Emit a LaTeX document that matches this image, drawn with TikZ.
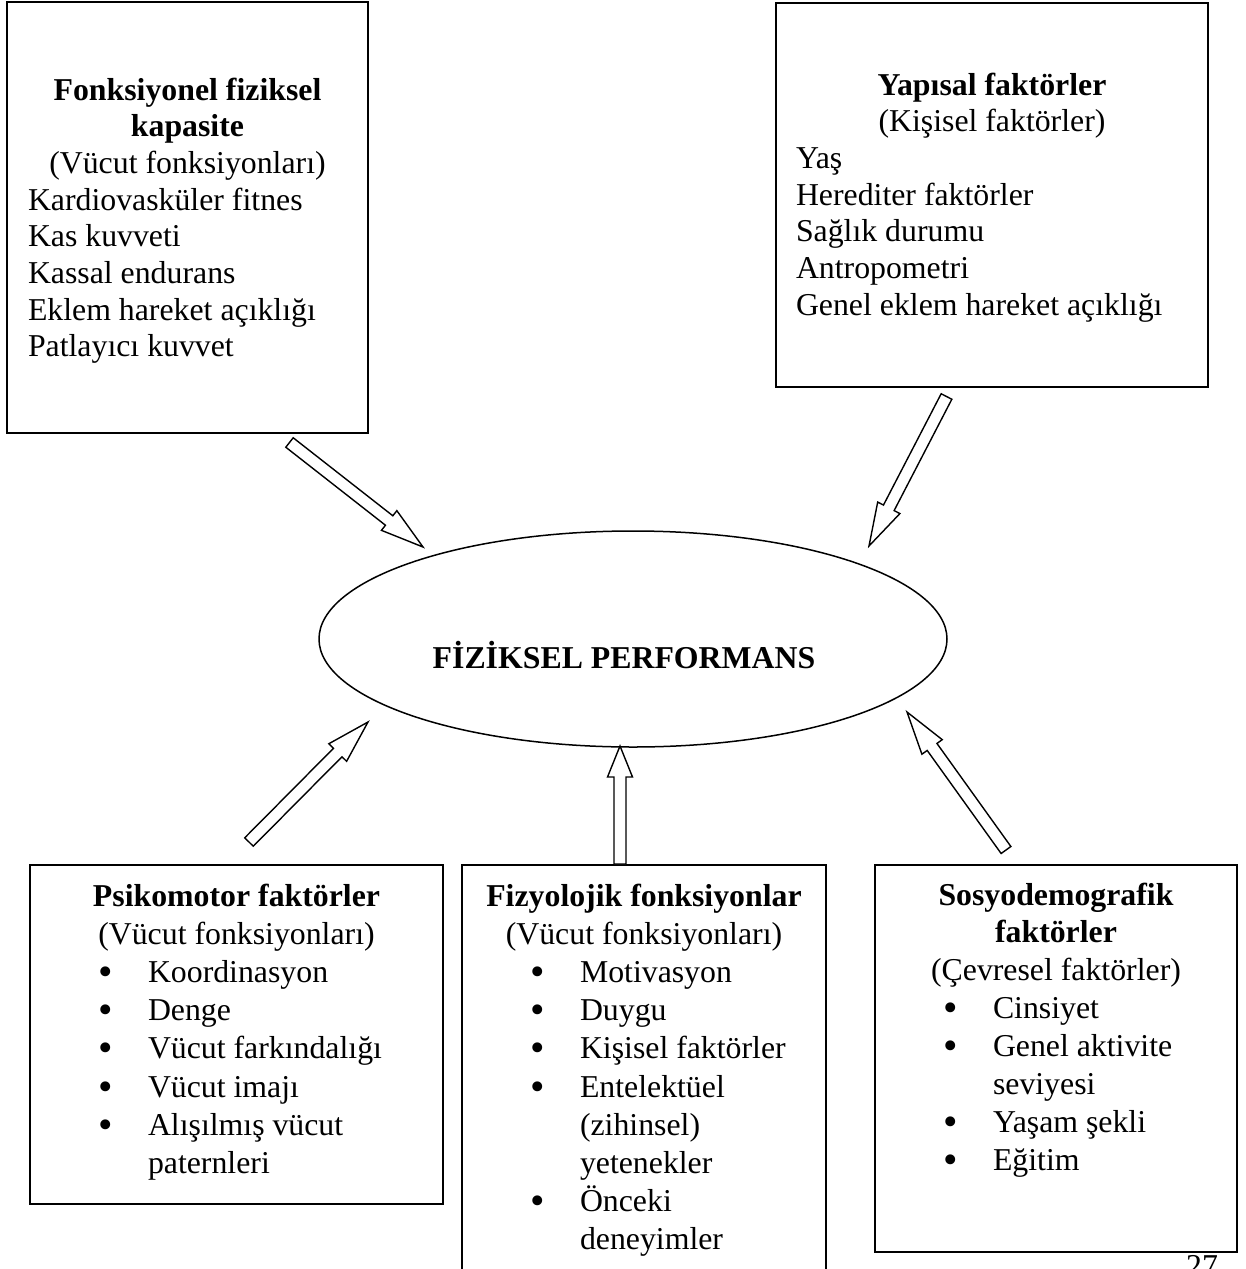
\documentclass[tikz,border=0pt]{standalone}
\usepackage{graphicx}
\usepackage{fontspec}
\setmainfont{Liberation Serif}
\usetikzlibrary{calc,shapes.geometric}

\tikzset{
  box/.style={draw, line width=1.8pt, inner sep=0pt},
  ovalnode/.style={draw, ellipse, line width=1.5pt, inner sep=0pt},
  blockarrow/.style={draw, line width=1.4pt, fill=white, line join=miter},
  txt/.style={anchor=base west, inner sep=0pt, outer sep=0pt},
}

\newcommand\fsTop{\fontsize{31.8}{36.7}\selectfont}
\newcommand\fsBot{\fontsize{31.8}{38.2}\selectfont}
\newcommand\bigbul{\smash{\raisebox{-3pt}{\scalebox{1.3}{\textbullet}}}}
\newcommand\bitem[1]{\par\noindent\hspace*{66pt}\makebox[0pt]{\bigbul}\hspace*{42pt}#1}
\newcommand\bcont[1]{\par\noindent\hspace*{108pt}#1}
\newcommand\blkarrow[3]{%
  \coordinate (bb) at ($(#2)!#3!(#1)$);
  \draw[blockarrow] ($(#1)!6pt!90:(#2)$) -- ($(bb)!6pt!90:(#2)$) -- ($(bb)!12.5pt!90:(#2)$)
    -- (#2) -- ($(bb)!12.5pt!-90:(#2)$) -- ($(bb)!6pt!-90:(#2)$) -- ($(#1)!6pt!-90:(#2)$) -- cycle;}

\begin{document}
\begin{tikzpicture}[x=1pt,y=-1pt]
\useasboundingbox (0,0) rectangle (1246,1269);

% boxes
\node[box, minimum width=361pt, minimum height=431pt] (fk) at (187.5,217.5) {};
\node[box, minimum width=432pt, minimum height=384pt] (yf) at (992,195) {};
\node[box, minimum width=413pt, minimum height=339pt] (pm) at (236.5,1034.5) {};
\node[box, minimum width=364pt, minimum height=435pt] (fz) at (644,1082.5) {};
\node[box, minimum width=362pt, minimum height=387pt] (sd) at (1056,1058.5) {};

% ellipse
\node[ovalnode, minimum width=628pt, minimum height=216pt] (fp) at (633,639) {};
\node[anchor=base, inner sep=0pt] (fpt) at (624,668) {\fsTop\bfseries FİZİKSEL PERFORMANS};

% texts top boxes
\node[txt] (fktxt) at (28,100) {\parbox[t]{319pt}{\fsTop
  {\centering\bfseries Fonksiyonel fiziksel\\ kapasite\par}
  {\centering (Vücut fonksiyonları)\par}
  \raggedright Kardiovasküler fitnes\\ Kas kuvveti\\ Kassal endurans\\ Eklem hareket açıklığı\\ Patlayıcı kuvvet\par}};

\node[txt] (yftxt) at (796,95) {\parbox[t]{392pt}{\fsTop
  {\centering\bfseries Yapısal faktörler\par}
  {\centering (Kişisel faktörler)\par}
  \raggedright Yaş\\ Herediter faktörler\\ Sağlık durumu\\ Antropometri\\ Genel eklem hareket açıklığı\par}};

% texts bottom boxes
\node[txt] (pmtxt) at (40,906) {\parbox[t]{393pt}{\fsBot
  {\centering\bfseries Psikomotor faktörler\par}
  {\centering (Vücut fonksiyonları)\par}
  \bitem{Koordinasyon}\bitem{Denge}\bitem{Vücut farkındalığı}\bitem{Vücut imajı}
  \bitem{Alışılmış vücut}\bcont{paternleri}\par}};

\node[txt] (fztxt) at (472,906) {\parbox[t]{344pt}{\fsBot
  {\centering\bfseries Fizyolojik fonksiyonlar\par}
  {\centering (Vücut fonksiyonları)\par}
  \bitem{Motivasyon}\bitem{Duygu}\bitem{Kişisel faktörler}\bitem{Entelektüel}
  \bcont{(zihinsel)}\bcont{yetenekler}\bitem{Önceki}\bcont{deneyimler}\par}};

\node[txt] (sdtxt) at (885,905) {\parbox[t]{342pt}{\fontsize{31.8}{37.9}\selectfont
  {\centering\bfseries Sosyodemografik\\ faktörler\par}
  {\centering (Çevresel faktörler)\par}
  \bitem{Cinsiyet}\bitem{Genel aktivite}\bcont{seviyesi}\bitem{Yaşam şekli}\bitem{Eğitim}\par}};

% page number
\node[anchor=base, inner sep=0pt] (pg) at (1202,1276) {\fsTop 27};

% arrows
\coordinate (t1) at (289.5,442.5); \coordinate (h1) at (423,547);
\coordinate (t2) at (946.5,396.5); \coordinate (h2) at (869,546);
\coordinate (t3) at (620,864);     \coordinate (h3) at (620,746);
\coordinate (t4) at (249,842);     \coordinate (h4) at (368,722);
\coordinate (t5) at (1006,850);    \coordinate (h5) at (907,712);
\blkarrow{t1}{h1}{43pt}
\blkarrow{t2}{h2}{43pt}
\blkarrow{t3}{h3}{31pt}
\blkarrow{t4}{h4}{43pt}
\blkarrow{t5}{h5}{43pt}
\end{tikzpicture}
\end{document}
